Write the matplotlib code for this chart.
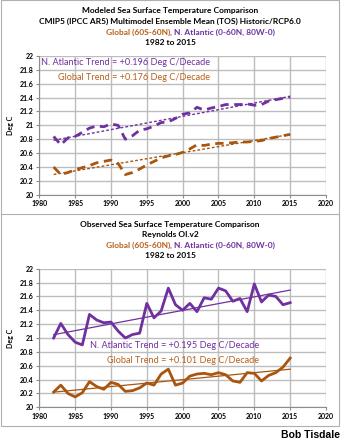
import numpy as np
import matplotlib
matplotlib.use("Agg")
import matplotlib.pyplot as plt
from matplotlib.patches import Rectangle
from matplotlib.lines import Line2D

years = np.arange(1982, 2016)

# Modeled (CMIP5 multimodel mean, TOS)
model_natl = [20.84, 20.72, 20.82, 20.84, 20.90, 20.96, 20.99, 20.98, 21.02, 21.00,
              20.80, 20.85, 20.93, 20.95, 20.99, 21.04, 21.05, 21.10, 21.16, 21.18,
              21.26, 21.22, 21.25, 21.27, 21.30, 21.30, 21.30, 21.31, 21.29, 21.30,
              21.35, 21.37, 21.39, 21.41]
model_glob = [20.40, 20.29, 20.32, 20.36, 20.39, 20.42, 20.46, 20.48, 20.50, 20.45,
              20.29, 20.32, 20.37, 20.43, 20.48, 20.53, 20.56, 20.58, 20.61, 20.66,
              20.72, 20.71, 20.73, 20.74, 20.74, 20.75, 20.76, 20.76, 20.77, 20.78,
              20.81, 20.83, 20.85, 20.87]

# Observed (Reynolds OI.v2)
obs_natl = [21.00, 21.21, 21.05, 20.94, 20.90, 21.34, 21.26, 21.22, 21.23, 21.10,
            21.00, 21.05, 21.07, 21.50, 21.29, 21.39, 21.72, 21.48, 21.40, 21.50,
            21.38, 21.58, 21.56, 21.72, 21.68, 21.53, 21.57, 21.38, 21.78, 21.52,
            21.62, 21.60, 21.48, 21.51]
obs_glob = [20.22, 20.32, 20.20, 20.15, 20.21, 20.37, 20.30, 20.26, 20.36, 20.33,
            20.23, 20.24, 20.28, 20.35, 20.32, 20.48, 20.55, 20.32, 20.35, 20.45,
            20.48, 20.49, 20.47, 20.50, 20.47, 20.38, 20.36, 20.50, 20.49, 20.38,
            20.46, 20.50, 20.58, 20.71]

PURPLE = '#7030A0'
BROWN = '#A8550E'
BROWN_TXT = '#B8601A'
FONT = 'Lato'

plt.rcParams['font.family'] = [FONT, 'DejaVu Sans']

fig = plt.figure(figsize=(3.42, 4.43), dpi=100)
W, H = 342, 443


def fx(px):
    return px / W


def fy(py):
    return 1 - py / H


# outer frame and separator
fig.add_artist(Rectangle((fx(1), fy(426)), fx(338), 426 / H, transform=fig.transFigure,
                         fill=False, ec='#b0b0b0', lw=0.8))
fig.add_artist(Line2D([fx(1), fx(339)], [fy(214), fy(214)], transform=fig.transFigure,
                      color='#b0b0b0', lw=0.8))


def trend(y):
    p = np.polyfit(years, y, 1)
    return np.polyval(p, years)


def setup(ax):
    ax.set_xlim(1980, 2020)
    ax.set_ylim(20, 22)
    ax.set_xticks(np.arange(1980, 2021, 5))
    ax.set_yticks(np.arange(20, 22.01, 0.2))
    ax.set_yticklabels(['20', '20.2', '20.4', '20.6', '20.8', '21', '21.2', '21.4',
                        '21.6', '21.8', '22'])
    ax.grid(True, color='#bdbdbd', lw=1.0)
    ax.set_axisbelow(True)
    for s in ['top', 'right']:
        ax.spines[s].set_visible(False)
    for s in ['left', 'bottom']:
        ax.spines[s].set_color('#8c8c8c')
    ax.tick_params(labelsize=5, length=2, color='#8c8c8c', pad=2)
    for lab in ax.get_xticklabels() + ax.get_yticklabels():
        lab.set_fontweight('bold')
    ax.set_ylabel('Deg C', fontsize=5, fontweight='bold', labelpad=4)


def titles(y0, l1, l2):
    kw = dict(ha='center', va='center', fontsize=6, fontweight='bold')
    xc = fx(170)
    fig.text(xc, fy(y0), l1, **kw)
    fig.text(xc, fy(y0 + 10.7), l2, **kw)
    fig.text(xc, fy(y0 + 21.4), 'Global (60S-60N)', color=BROWN_TXT, ha='right',
             va='center', fontsize=6, fontweight='bold')
    fig.text(xc, fy(y0 + 21.4), ', N. Atlantic (0-60N, 80W-0)', color=PURPLE, ha='left',
             va='center', fontsize=6, fontweight='bold')
    fig.text(xc, fy(y0 + 32), '1982 to 2015', **kw)


ANN = 6.6

# ---- top panel: modeled
ax1 = fig.add_axes([fx(39.3), fy(194.7), fx(286.7), (194.7 - 56) / H])
setup(ax1)
ax1.plot(years, model_natl, color=PURPLE, lw=2.0, ls=(0, (3, 2)))
ax1.plot(years, model_glob, color=BROWN, lw=2.0, ls=(0, (3, 2)))
ax1.plot(years, trend(model_natl), color=PURPLE, lw=1.0, ls=(0, (2, 1.5)))
ax1.plot(years, trend(model_glob), color=BROWN, lw=1.0, ls=(0, (2, 1.5)))
ax1.text(2003.8, 21.9, 'N. Atlantic Trend = +0.196 Deg C/Decade', color=PURPLE,
         fontsize=ANN, ha='right', va='center')
ax1.text(2003.8, 21.69, 'Global Trend = +0.176 Deg C/Decade', color=BROWN_TXT,
         fontsize=ANN, ha='right', va='center')

titles(10.7, 'Modeled Sea Surface Temperature Comparison',
       'CMIP5 (IPCC AR5) Multimodel Ensemble Mean (TOS) Historic/RCP6.0')

# ---- bottom panel: observed
ax2 = fig.add_axes([fx(39.3), fy(407.3), fx(286.7), (407.3 - 268.7) / H])
setup(ax2)
ax2.plot(years, obs_natl, color=PURPLE, lw=2.0)
ax2.plot(years, obs_glob, color=BROWN, lw=2.0)
ax2.plot(years, trend(obs_natl), color=PURPLE, lw=0.9)
ax2.plot(years, trend(obs_glob), color=BROWN, lw=0.9)
ax2.text(2010.6, 20.885, 'N. Atlantic Trend = +0.195 Deg C/Decade', color=PURPLE,
         fontsize=ANN, ha='right', va='center')
ax2.text(2010.6, 20.67, 'Global Trend = +0.101 Deg C/Decade', color=BROWN_TXT,
         fontsize=ANN, ha='right', va='center')

titles(224, 'Observed Sea Surface Temperature Comparison', 'Reynolds OI.v2')

fig.text(fx(340), fy(435), 'Bob Tisdale', ha='right', va='center', fontsize=7.5,
         fontweight='bold', family=['Liberation Sans', 'DejaVu Sans'])

fig.savefig('out.png', dpi=100)
